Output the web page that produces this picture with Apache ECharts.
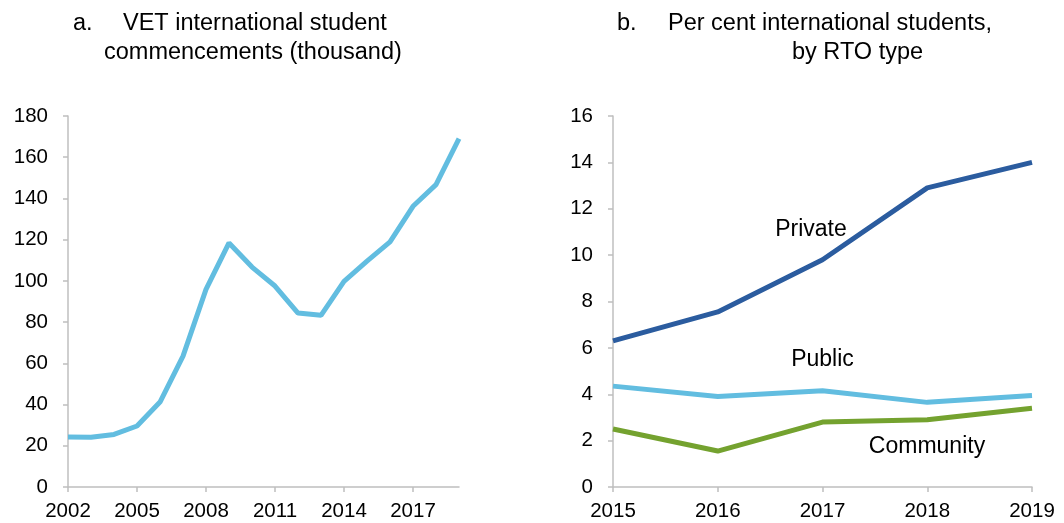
<!DOCTYPE html>
<html>
<head>
<meta charset="utf-8">
<script src="https://cdn.jsdelivr.net/npm/echarts@6/dist/echarts.min.js"></script>
<style>
  html, body { margin: 0; padding: 0; background: #fff; }
  #chart { width: 1064px; height: 523px; }
</style>
</head>
<body>
<div id="chart"></div>
<script>
// ---- Data ----
const yearsA = ['2002','2003','2004','2005','2006','2007','2008','2009','2010','2011','2012','2013','2014','2015','2016','2017','2018','2019'];
const commencements = [24.3, 24.1, 25.5, 29.6, 41.2, 63.5, 95.9, 118.4, 106.7, 97.5, 84.4, 83.3, 99.8, 109.6, 118.9, 136.2, 146.7, 169.0];

const yearsB = ['2015','2016','2017','2018','2019'];
const privateRTO = [6.3, 7.55, 9.8, 12.9, 14.0];
const publicRTO = [4.35, 3.9, 4.15, 3.65, 3.95];
const communityRTO = [2.5, 1.55, 2.8, 2.9, 3.4];

const FONT = "'Liberation Sans', Arial, sans-serif";
const AXIS_GREY = '#bfbfbf';
const LIGHT_BLUE = '#62bde0';
const DARK_BLUE = '#2b5c9f';
const GREEN = '#74a22f';
const LINE_W = 5;

const chart = echarts.init(document.getElementById('chart'), null, { renderer: 'canvas' });

function catAxis(gridIndex, data, interval) {
  return {
    type: 'category', gridIndex, data, boundaryGap: false,
    axisLine: { show: true, lineStyle: { color: AXIS_GREY, width: 1.5 } },
    axisTick: { show: true, inside: false, length: 5, interval: interval, lineStyle: { color: AXIS_GREY, width: 1.5 } },
    axisLabel: { interval: interval, color: '#000', fontFamily: FONT, fontSize: 20.5, margin: 14 },
    splitLine: { show: false }
  };
}
function valAxis(gridIndex, max, interval) {
  return {
    type: 'value', gridIndex, min: 0, max, interval,
    axisLine: { show: true, lineStyle: { color: AXIS_GREY, width: 1.5 } },
    axisTick: { show: true, inside: false, length: 5, lineStyle: { color: AXIS_GREY, width: 1.5 } },
    axisLabel: { color: '#000', fontFamily: FONT, fontSize: 20.5, margin: 20 },
    splitLine: { show: false }
  };
}
function txt(text, x, y, size, align) {
  return {
    type: 'text', silent: true,
    style: { text, x, y, font: size + 'px ' + FONT, fill: '#000', textAlign: align || 'left', textVerticalAlign: 'middle' }
  };
}

chart.setOption({
  animation: false,
  backgroundColor: '#ffffff',
  grid: [
    { left: 68, right: 605, top: 116, bottom: 36, containLabel: false },
    { left: 613, right: 32, top: 116, bottom: 36, containLabel: false }
  ],
  xAxis: [catAxis(0, yearsA, 2), catAxis(1, yearsB, 0)],
  yAxis: [valAxis(0, 180, 20), valAxis(1, 16, 2)],
  series: [
    { type: 'line', name: 'Commencements', xAxisIndex: 0, yAxisIndex: 0, data: commencements,
      showSymbol: false, lineStyle: { color: LIGHT_BLUE, width: LINE_W }, itemStyle: { color: LIGHT_BLUE } },
    { type: 'line', name: 'Private', xAxisIndex: 1, yAxisIndex: 1, data: privateRTO,
      showSymbol: false, lineStyle: { color: DARK_BLUE, width: LINE_W }, itemStyle: { color: DARK_BLUE } },
    { type: 'line', name: 'Public', xAxisIndex: 1, yAxisIndex: 1, data: publicRTO,
      showSymbol: false, lineStyle: { color: LIGHT_BLUE, width: LINE_W }, itemStyle: { color: LIGHT_BLUE } },
    { type: 'line', name: 'Community', xAxisIndex: 1, yAxisIndex: 1, data: communityRTO,
      showSymbol: false, lineStyle: { color: GREEN, width: LINE_W }, itemStyle: { color: GREEN } }
  ],
  graphic: [
    txt('a.', 73, 23.5, 23.5),
    txt('VET international student', 123, 23.5, 23.5),
    txt('commencements (thousand)', 104, 52.5, 23.5),
    txt('b.', 617, 23.5, 23.5),
    txt('Per cent international students,', 668, 23.5, 23.5),
    txt('by RTO type', 792, 52.5, 23.5),
    txt('Private', 811, 229.5, 23, 'center'),
    txt('Public', 822.5, 360, 23, 'center'),
    txt('Community', 927, 447, 23, 'center')
  ]
});
</script>
</body>
</html>
